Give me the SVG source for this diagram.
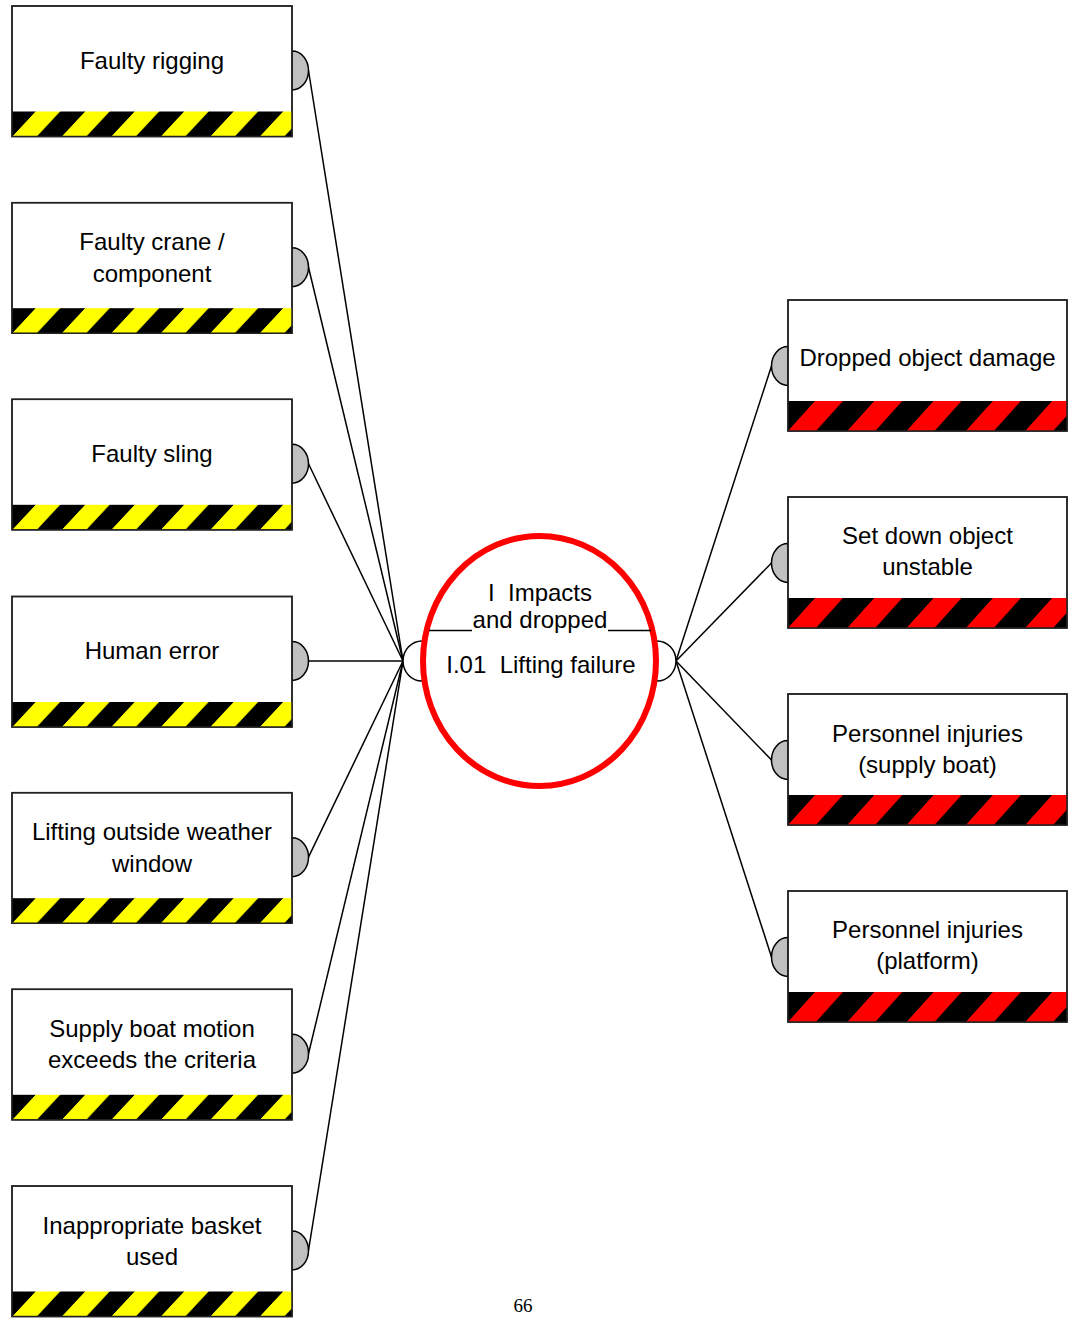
<svg xmlns="http://www.w3.org/2000/svg" width="1068" height="1318" viewBox="0 0 1068 1318">
  <defs>
    <!-- hazard stripes: yellow/black for causes, red/black for consequences -->
    <pattern id="hazYellow" patternUnits="userSpaceOnUse" width="49.5" height="60" patternTransform="translate(23,0) skewX(-43)">
      <rect x="0" y="0" width="49.5" height="60" fill="#000"/>
      <rect x="0" y="0" width="24.5" height="60" fill="#ffff00"/>
    </pattern>
    <pattern id="hazRed" patternUnits="userSpaceOnUse" width="59.3" height="60" patternTransform="translate(-0.7,0) skewX(-42)">
      <rect x="0" y="0" width="59.3" height="60" fill="#000"/>
      <rect x="0" y="0" width="28" height="60" fill="#ff0000"/>
    </pattern>
    <style>
      .box { fill: #fff; stroke: #222; stroke-width: 1.5; }
      .frame { fill: none; stroke: #222; stroke-width: 1.5; }
      .knob { fill: #c0c0c0; stroke: #000; stroke-width: 1.5; }
      .port { fill: #fff; stroke: #000; stroke-width: 1.5; }
      .lbl { font-family: "Liberation Sans", Arial, sans-serif; font-size: 24px; fill: #000; text-anchor: middle; }
      .wire { stroke: #000; stroke-width: 1.5; fill: none; }
    </style>
  </defs>

  <rect x="0" y="0" width="1068" height="1318" fill="#fff"/>

  <!-- connectors -->
  <g id="connectors" class="wire">
    <line x1="308.5" y1="70.5" x2="403" y2="661"/>
    <line x1="308.5" y1="267.2" x2="403" y2="661"/>
    <line x1="308.5" y1="463.8" x2="403" y2="661"/>
    <line x1="308.5" y1="661" x2="403" y2="661"/>
    <line x1="308.5" y1="857.2" x2="403" y2="661"/>
    <line x1="308.5" y1="1053.8" x2="403" y2="661"/>
    <line x1="308.5" y1="1250.5" x2="403" y2="661"/>
    <line x1="676" y1="661" x2="771.5" y2="366"/>
    <line x1="676" y1="661" x2="771.5" y2="563"/>
    <line x1="676" y1="661" x2="771.5" y2="760"/>
    <line x1="676" y1="661" x2="771.5" y2="957"/>
  </g>

  <!-- causes (left column) -->
  <g id="cause-faulty-rigging" transform="translate(12,6)">
    <path class="knob" d="M280,45 A16.5,19.5 0 0,1 280,84 Z"/>
    <rect class="box" x="0" y="0" width="280" height="130.5"/>
    <rect x="0" y="105.5" width="280" height="25" fill="url(#hazYellow)"/>
    <rect class="frame" x="0" y="0" width="280" height="130.5"/>
    <text class="lbl" x="140" y="63">Faulty rigging</text>
  </g>

  <g id="cause-faulty-crane" transform="translate(12,202.7)">
    <path class="knob" d="M280,45 A16.5,19.5 0 0,1 280,84 Z"/>
    <rect class="box" x="0" y="0" width="280" height="130.5"/>
    <rect x="0" y="105.5" width="280" height="25" fill="url(#hazYellow)"/>
    <rect class="frame" x="0" y="0" width="280" height="130.5"/>
    <text class="lbl" x="140" y="47.5">Faulty crane /</text>
    <text class="lbl" x="140" y="79.5">component</text>
  </g>

  <g id="cause-faulty-sling" transform="translate(12,399.3)">
    <path class="knob" d="M280,45 A16.5,19.5 0 0,1 280,84 Z"/>
    <rect class="box" x="0" y="0" width="280" height="130.5"/>
    <rect x="0" y="105.5" width="280" height="25" fill="url(#hazYellow)"/>
    <rect class="frame" x="0" y="0" width="280" height="130.5"/>
    <text class="lbl" x="140" y="63">Faulty sling</text>
  </g>

  <g id="cause-human-error" transform="translate(12,596.5)">
    <path class="knob" d="M280,45 A16.5,19.5 0 0,1 280,84 Z"/>
    <rect class="box" x="0" y="0" width="280" height="130.5"/>
    <rect x="0" y="105.5" width="280" height="25" fill="url(#hazYellow)"/>
    <rect class="frame" x="0" y="0" width="280" height="130.5"/>
    <text class="lbl" x="140" y="62">Human error</text>
  </g>

  <g id="cause-weather-window" transform="translate(12,792.7)">
    <path class="knob" d="M280,45 A16.5,19.5 0 0,1 280,84 Z"/>
    <rect class="box" x="0" y="0" width="280" height="130.5"/>
    <rect x="0" y="105.5" width="280" height="25" fill="url(#hazYellow)"/>
    <rect class="frame" x="0" y="0" width="280" height="130.5"/>
    <text class="lbl" x="140" y="47.5">Lifting outside weather</text>
    <text class="lbl" x="140" y="79">window</text>
  </g>

  <g id="cause-boat-motion" transform="translate(12,989.3)">
    <path class="knob" d="M280,45 A16.5,19.5 0 0,1 280,84 Z"/>
    <rect class="box" x="0" y="0" width="280" height="130.5"/>
    <rect x="0" y="105.5" width="280" height="25" fill="url(#hazYellow)"/>
    <rect class="frame" x="0" y="0" width="280" height="130.5"/>
    <text class="lbl" x="140" y="47.5">Supply boat motion</text>
    <text class="lbl" x="140" y="79">exceeds the criteria</text>
  </g>

  <g id="cause-basket" transform="translate(12,1186)">
    <path class="knob" d="M280,45 A16.5,19.5 0 0,1 280,84 Z"/>
    <rect class="box" x="0" y="0" width="280" height="130.5"/>
    <rect x="0" y="105.5" width="280" height="25" fill="url(#hazYellow)"/>
    <rect class="frame" x="0" y="0" width="280" height="130.5"/>
    <text class="lbl" x="140" y="47.5">Inappropriate basket</text>
    <text class="lbl" x="140" y="79">used</text>
  </g>

  <!-- top event -->
  <g id="top-event">
    <path class="port" d="M422,641 A19,20 0 0,0 422,681"/>
    <path class="port" d="M657,641 A19,20 0 0,1 657,681"/>
    <ellipse cx="539.5" cy="661" rx="116.5" ry="125" fill="#fff" stroke="#ff0000" stroke-width="6"/>
    <text class="lbl" x="540" y="601" xml:space="preserve">I  Impacts</text>
    <text class="lbl" x="540" y="628">and dropped</text>
    <line class="wire" x1="429" y1="630.5" x2="472" y2="630.5"/>
    <line class="wire" x1="608" y1="630.5" x2="651" y2="630.5"/>
    <text class="lbl" x="541" y="672.5" xml:space="preserve">I.01  Lifting failure</text>
  </g>

  <!-- consequences (right column) -->
  <g id="cons-dropped-object" transform="translate(788,300)">
    <path class="knob" d="M0,46.5 A16.5,19.5 0 0,0 0,85.5 Z"/>
    <rect class="box" x="0" y="0" width="279" height="131"/>
    <rect x="0" y="101" width="279" height="30" fill="url(#hazRed)"/>
    <rect class="frame" x="0" y="0" width="279" height="131"/>
    <text class="lbl" x="139.5" y="66">Dropped object damage</text>
  </g>

  <g id="cons-set-down" transform="translate(788,497)">
    <path class="knob" d="M0,46.5 A16.5,19.5 0 0,0 0,85.5 Z"/>
    <rect class="box" x="0" y="0" width="279" height="131"/>
    <rect x="0" y="101" width="279" height="30" fill="url(#hazRed)"/>
    <rect class="frame" x="0" y="0" width="279" height="131"/>
    <text class="lbl" x="139.5" y="47">Set down object</text>
    <text class="lbl" x="139.5" y="78">unstable</text>
  </g>

  <g id="cons-injury-boat" transform="translate(788,694)">
    <path class="knob" d="M0,46.5 A16.5,19.5 0 0,0 0,85.5 Z"/>
    <rect class="box" x="0" y="0" width="279" height="131"/>
    <rect x="0" y="101" width="279" height="30" fill="url(#hazRed)"/>
    <rect class="frame" x="0" y="0" width="279" height="131"/>
    <text class="lbl" x="139.5" y="48">Personnel injuries</text>
    <text class="lbl" x="139.5" y="79">(supply boat)</text>
  </g>

  <g id="cons-injury-platform" transform="translate(788,891)">
    <path class="knob" d="M0,46.5 A16.5,19.5 0 0,0 0,85.5 Z"/>
    <rect class="box" x="0" y="0" width="279" height="131"/>
    <rect x="0" y="101" width="279" height="30" fill="url(#hazRed)"/>
    <rect class="frame" x="0" y="0" width="279" height="131"/>
    <text class="lbl" x="139.5" y="47">Personnel injuries</text>
    <text class="lbl" x="139.5" y="78">(platform)</text>
  </g>

  <!-- page number -->
  <text x="523" y="1312" font-family="Liberation Serif, 'Times New Roman', serif" font-size="19" text-anchor="middle" fill="#000">66</text>
</svg>
